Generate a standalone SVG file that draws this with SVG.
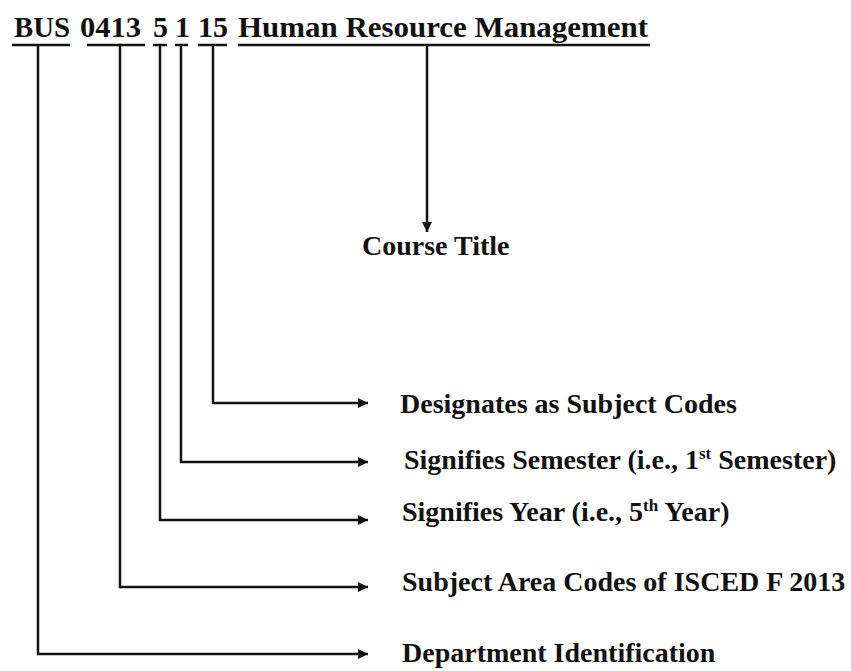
<svg xmlns="http://www.w3.org/2000/svg" width="851" height="671" viewBox="0 0 851 671">
<style>
text { font-family: "Liberation Serif", "Times New Roman", serif; font-weight: bold; fill: #111; }
.code { font-size: 30px; }
.lbl { font-size: 28px; }
.ul { stroke: #111; stroke-width: 2.5; }
.conn { stroke: #111; stroke-width: 2.5; fill: none; }
</style>
<defs>
<marker id="arr" viewBox="0 0 10 10" refX="10" refY="5" markerWidth="4" markerHeight="4" orient="auto" markerUnits="strokeWidth">
<path d="M0,0 L10,5 L0,10 z" fill="#111"/>
</marker>
</defs>
<rect width="851" height="671" fill="#fff"/>
<g id="code-bus"><text class="code" x="14" y="37" textLength="56" lengthAdjust="spacingAndGlyphs">BUS</text><line class="ul" x1="12" y1="45" x2="70" y2="45"/></g>
<g id="code-0413"><text class="code" x="80" y="37" textLength="61" lengthAdjust="spacingAndGlyphs">0413</text><line class="ul" x1="87" y1="45" x2="145" y2="45"/></g>
<g id="code-5"><text class="code" x="153" y="37">5</text><line class="ul" x1="153" y1="45" x2="167" y2="45"/></g>
<g id="code-1"><text class="code" x="175" y="37">1</text><line class="ul" x1="175" y1="45" x2="188" y2="45"/></g>
<g id="code-15"><text class="code" x="198" y="37">15</text><line class="ul" x1="198" y1="45" x2="227" y2="45"/></g>
<g id="code-title"><text class="code" x="238" y="37" textLength="410" lengthAdjust="spacingAndGlyphs">Human Resource Management</text><line class="ul" x1="238" y1="45" x2="650" y2="45"/></g>
<g id="course-title"><text class="lbl" x="362" y="255">Course Title</text></g>
<g id="lbl-subject-codes"><text class="lbl" x="400" y="413">Designates as Subject Codes</text></g>
<g id="lbl-semester"><text class="lbl" x="404" y="469">Signifies Semester (i.e., 1<tspan font-size="17" dy="-10">st</tspan><tspan dy="10"> Semester)</tspan></text></g>
<g id="lbl-year"><text class="lbl" x="402" y="521">Signifies Year (i.e., 5<tspan font-size="17" dy="-10">th</tspan><tspan dy="10"> Year)</tspan></text></g>
<g id="lbl-isced"><text class="lbl" x="402" y="591">Subject Area Codes of ISCED F 2013</text></g>
<g id="lbl-dept"><text class="lbl" x="402" y="662">Department Identification</text></g>
<g id="connectors">
<path class="conn" d="M427,45 V232" marker-end="url(#arr)"/>
<path class="conn" d="M213,45 V403 H368" marker-end="url(#arr)"/>
<path class="conn" d="M181,45 V462 H368" marker-end="url(#arr)"/>
<path class="conn" d="M160,45 V520 H368" marker-end="url(#arr)"/>
<path class="conn" d="M120,45 V587 H368" marker-end="url(#arr)"/>
<path class="conn" d="M38,45 V654 H368" marker-end="url(#arr)"/>
</g>
</svg>
